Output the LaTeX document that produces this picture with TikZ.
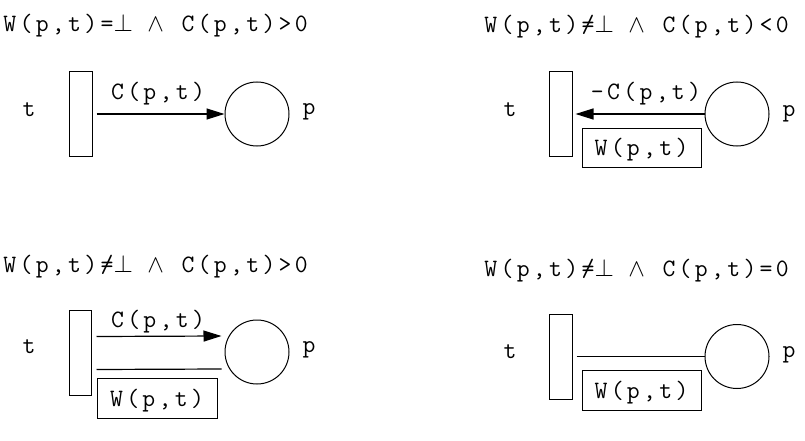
\documentclass[tikz,border=0pt]{standalone}
\usetikzlibrary{arrows.meta,calc}
\newlength\cw
\setlength\cw{16.2pt}
\def\mperp{$\perp$}
\def\mwedge{$\wedge$}
\def\mneq{\ooalign{\hfil=\hfil\cr\hfil/\hfil\cr}}
\def\monoaux#1{\ifx\relax#1\else\makebox[\cw]{#1}\expandafter\monoaux\fi}
\newcommand\mono[1]{{\ttfamily\fontsize{25}{25}\selectfont\monoaux#1\relax}}
\tikzset{
  transbox/.style={draw,line width=1pt,minimum width=23pt,minimum height=85pt,inner sep=0pt},
  placecirc/.style={draw,circle,line width=1pt,minimum size=64pt,inner sep=0pt},
  lbl/.style={anchor=base,inner sep=0pt},
  ttl/.style={anchor=base west,inner sep=0pt},
  wbox/.style={draw,line width=1pt,minimum width=119pt,minimum height=39pt,inner sep=0pt,text height=19pt,text depth=3pt},
  arcline/.style={line width=1.2pt,-{Triangle[length=18pt,width=11pt]}},
  plainline/.style={line width=1.2pt}
}
\begin{document}
\begin{tikzpicture}[x=1pt,y=-1pt]
\path[use as bounding box] (0,0) rectangle (805,441);
% Panel 1
\node[ttl] (ttl1) at (1.5,32) {\mono{W(p,t)=\mperp~\mwedge~C(p,t)>0}};
\node[transbox] (t1) at (80.5,114) {};
\node[placecirc] (p1) at (257,114) {};
\node[lbl] (lt1) at (29,117) {\mono{t}};
\node[lbl] (lp1) at (309,114) {\mono{p}};
\node[lbl] (c1) at (158,100) {\mono{C(p,t)}};
\draw[arcline] ($(t1.east)+(4,0)$) -- (p1.west);
% Panel 2
\node[ttl] (ttl2) at (482.5,33) {\mono{W(p,t)\mneq\mperp~\mwedge~C(p,t)<0}};
\node[transbox] (t2) at (560.5,114) {};
\node[placecirc] (p2) at (737,114) {};
\node[lbl] (lt2) at (510,117) {\mono{t}};
\node[lbl] (lp2) at (789,117) {\mono{p}};
\node[lbl] (c2) at (646,100) {\mono{-C(p,t)}};
\draw[arcline] (p2.west) -- ($(t2.east)+(3,0)$);
\node[wbox] (w2) at (641.5,147.5) {\mono{W(p,t)}};
% Panel 3
\node[ttl] (ttl3) at (1.5,272) {\mono{W(p,t)\mneq\mperp~\mwedge~C(p,t)>0}};
\node[transbox,minimum width=22pt] (t3) at (80,352.5) {};
\node[placecirc] (p3) at (257,352) {};
\node[lbl] (lt3) at (29,353) {\mono{t}};
\node[lbl] (lp3) at (309,352) {\mono{p}};
\node[lbl] (c3) at (158,327) {\mono{C(p,t)}};
\coordinate (a3s) at ($(t3.east)+(5,-16)$);
\coordinate (a3e) at ($(p3.west)+(-3,-16)$);
\coordinate (b3s) at ($(t3.east)+(5,17)$);
\coordinate (b3e) at ($(p3.west)+(-3,17)$);
\draw[arcline] (a3s) -- (a3e);
\draw[plainline] (b3s) -- (b3e);
\node[wbox,minimum width=120pt,minimum height=40pt] (w3) at (157,398) {\mono{W(p,t)}};
% Panel 4
\node[ttl] (ttl4) at (482.5,276) {\mono{W(p,t)\mneq\mperp~\mwedge~C(p,t)=0}};
\node[transbox] (t4) at (560.5,356.5) {};
\node[placecirc] (p4) at (737,356.5) {};
\node[lbl] (lt4) at (510,358) {\mono{t}};
\node[lbl] (lp4) at (789,357) {\mono{p}};
\draw[plainline] ($(t4.east)+(4,0)$) -- (p4.west);
\node[wbox,minimum height=40pt] (w4) at (641.5,390) {\mono{W(p,t)}};
\end{tikzpicture}
\end{document}
